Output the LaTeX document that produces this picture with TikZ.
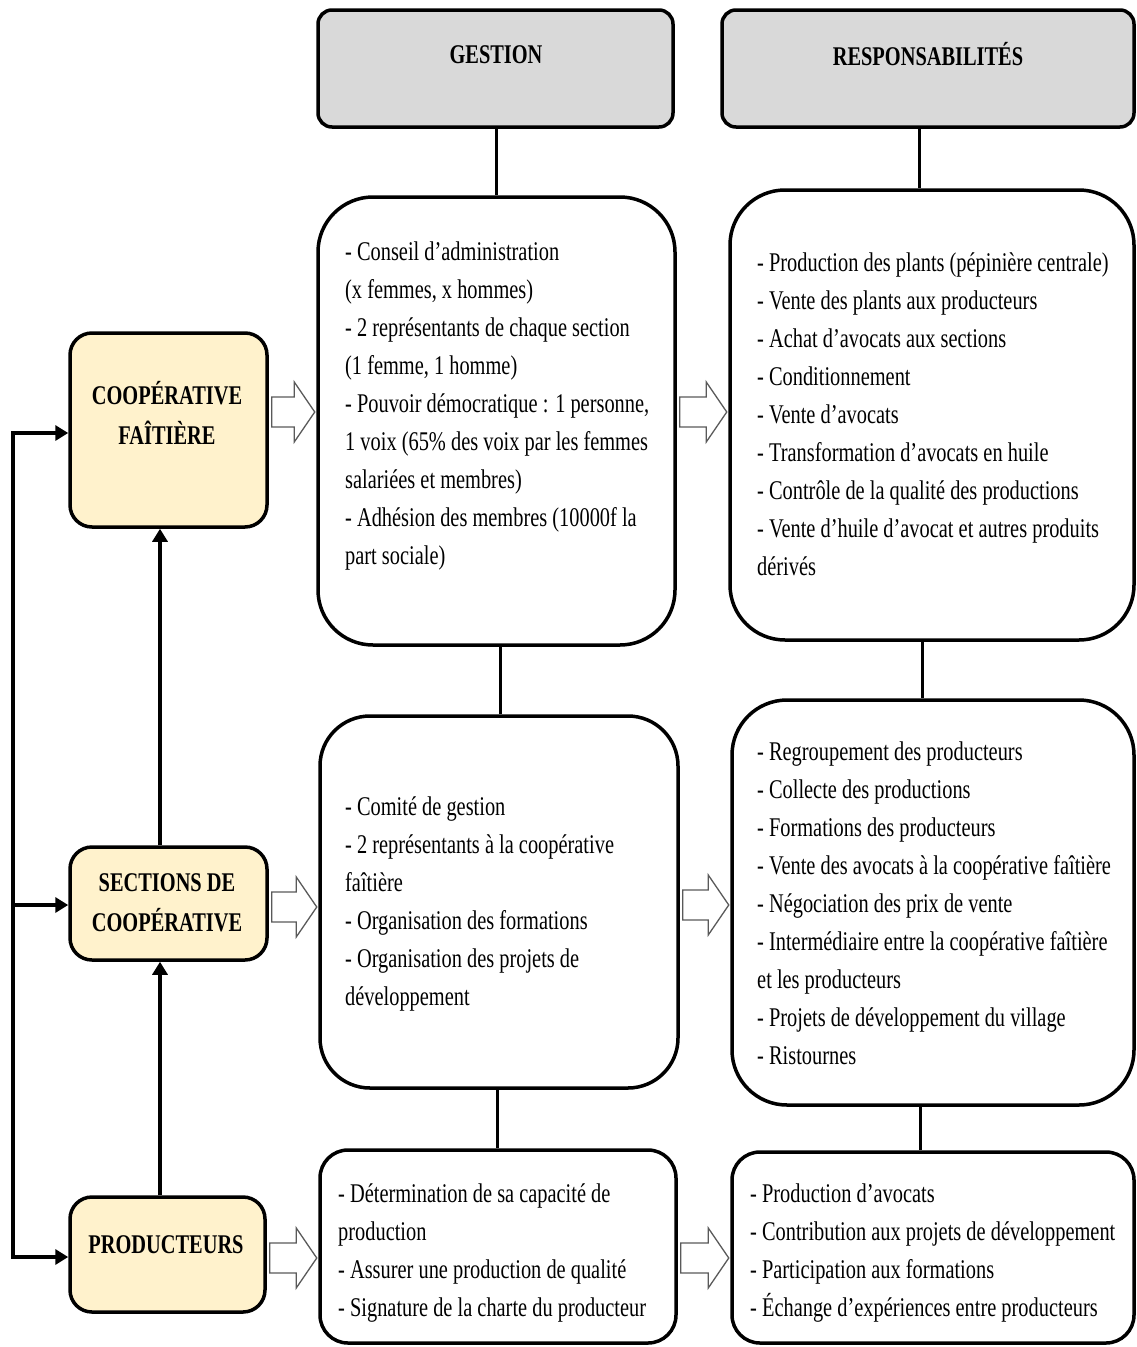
\documentclass[tikz,border=0pt]{standalone}
\usepackage{fontspec}
\setmainfont{Liberation Serif}[FakeStretch=0.755]
\usetikzlibrary{arrows.meta,calc}
\definecolor{beige}{HTML}{FFF2CC}
\definecolor{hgray}{HTML}{D9D9D9}
\definecolor{agray}{HTML}{5A5A5A}
\tikzset{
  box/.style={draw=black, line width=3.5pt, fill=white, inner sep=0pt},
  headbox/.style={box, fill=hgray, rounded corners=14pt},
  sidebox/.style={box, fill=beige, rounded corners=22pt},
  txt/.style={anchor=north west, inner sep=0pt, align=left, font=\fontsize{27}{38}\selectfont},
  ttl/.style={inner sep=0pt, align=center, font=\fontsize{27}{40}\selectfont\bfseries},
  conn/.style={line width=3pt},
  larr/.style={line width=3.5pt, -{Triangle[length=13pt,width=15pt]}},
  harrow/.style={draw=agray, line width=1.3pt, fill=white, line join=miter}
}
\newcommand\hollowarr[3]{%
  \draw[harrow] let \p1=(#1.east), \p2=(#2.west), \p3=(0,#3) in
   ({\x1+3pt},{\y3+15pt}) -- ({\x2-22pt},{\y3+15pt}) -- ({\x2-22pt},{\y3+30pt})
   -- ({\x2-1.5pt},\y3) -- ({\x2-22pt},{\y3-30pt}) -- ({\x2-22pt},{\y3-15pt})
   -- ({\x1+3pt},{\y3-15pt}) -- cycle;}
\begin{document}
\begin{tikzpicture}[x=1pt,y=-1pt]
\useasboundingbox[fill=white] (0,0) rectangle (1137,1347);
% header boxes
\node[headbox, minimum width=355pt, minimum height=117pt] (hg) at (495.5,68.5) {};
\node[headbox, minimum width=412pt, minimum height=117pt] (hr) at (928,68.5) {};
% gestion column
\node[box, rounded corners=55pt, minimum width=357pt, minimum height=448pt] (tg) at (496.5,421) {};
\node[box, rounded corners=50pt, minimum width=358pt, minimum height=372pt] (mg) at (499,902) {};
\node[box, rounded corners=28pt, minimum width=356pt, minimum height=193pt] (bg) at (498,1246.5) {};
% responsabilites column
\node[box, rounded corners=55pt, minimum width=404pt, minimum height=450pt] (tr) at (932,415) {};
\node[box, rounded corners=55pt, minimum width=402pt, minimum height=405pt] (mr) at (933,902.5) {};
\node[box, rounded corners=28pt, minimum width=402pt, minimum height=191pt] (br) at (933,1247.5) {};
% side boxes
\node[sidebox, minimum width=197pt, minimum height=194pt] (cf) at (168.5,430) {};
\node[sidebox, minimum width=197pt, minimum height=113pt] (sc) at (168.5,903.5) {};
\node[sidebox, minimum width=195pt, minimum height=115pt] (pr) at (167.5,1254.5) {};
% titles
\node[ttl] (thg) at (496,55) {GESTION};
\node[ttl] (thr) at (928,54) {RESPONSABILITÉS};
\node[ttl] (tcf) at (167,413) {COOPÉRATIVE\\FAÎTIÈRE};
\node[ttl] (tsc) at (167,903) {SECTIONS DE\\COOPÉRATIVE};
\node[ttl] (tpr) at (166,1245) {PRODUCTEURS};
% vertical connectors
\coordinate (gx1) at (496,0);
\coordinate (gx2) at (500,0);
\coordinate (gx3) at (497,0);
\coordinate (rx1) at (919,0);
\coordinate (rx2) at (922,0);
\coordinate (rx3) at (920,0);
\draw[conn] (hg.south -| gx1) -- (tg.north -| gx1);
\draw[conn] (tg.south -| gx2) -- (mg.north -| gx2);
\draw[conn] (mg.south -| gx3) -- (bg.north -| gx3);
\draw[conn] (hr.south -| rx1) -- (tr.north -| rx1);
\draw[conn] (tr.south -| rx2) -- (mr.north -| rx2);
\draw[conn] (mr.south -| rx3) -- (br.north -| rx3);
% hollow arrows
\hollowarr{cf}{tg}{412}
\hollowarr{tg}{tr}{412}
\hollowarr{sc}{mg}{907}
\hollowarr{mg}{mr}{905}
\hollowarr{pr}{bg}{1258}
\hollowarr{bg}{br}{1258}
% left feedback connectors
\coordinate (l1) at (13,433);
\coordinate (l2) at (13,905);
\coordinate (l3) at (13,1257);
\draw[line width=3.5pt] ([yshift=1.75pt]l1) -- ([yshift=-1.75pt]l3);
\draw[larr] (l1) -- (l1 -| cf.west);
\draw[larr] (l2) -- (l2 -| sc.west);
\draw[larr] (l3) -- (l3 -| pr.west);
\coordinate (vx) at (160,0);
\draw[larr] (pr.north -| vx) -- (sc.south -| vx);
\draw[larr] (sc.north -| vx) -- (cf.south -| vx);
% texts
\node[txt] (xtg) at (345,233.4) {\strut- Conseil d’administration\\
(x femmes, x hommes)\\
- 2 représentants de chaque section\\
(1 femme, 1 homme)\\
- Pouvoir démocratique : 1 personne,\\
1 voix (65\% des voix par les femmes\\
salariées et membres)\\
- Adhésion des membres (10000f la\\
part sociale)};
\node[txt] (xtr) at (757,244.4) {\strut- Production des plants (pépinière centrale)\\
- Vente des plants aux producteurs\\
- Achat d’avocats aux sections\\
- Conditionnement\\
- Vente d’avocats\\
- Transformation d’avocats en huile\\
- Contrôle de la qualité des productions\\
- Vente d’huile d’avocat et autres produits\\
dérivés};
\node[txt] (xmg) at (345,788.4) {\strut- Comité de gestion\\
- 2 représentants à la coopérative\\
faîtière\\
- Organisation des formations\\
- Organisation des projets de\\
développement};
\node[txt] (xmr) at (757,733.4) {\strut- Regroupement des producteurs\\
- Collecte des productions\\
- Formations des producteurs\\
- Vente des avocats à la coopérative faîtière\\
- Négociation des prix de vente\\
- Intermédiaire entre la coopérative faîtière\\
et les producteurs\\
- Projets de développement du village\\
- Ristournes};
\node[txt] (xbg) at (338,1175.4) {\strut- Détermination de sa capacité de\\
production\\
- Assurer une production de qualité\\
- Signature de la charte du producteur};
\node[txt] (xbr) at (750,1175.4) {\strut- Production d’avocats\\
- Contribution aux projets de développement\\
- Participation aux formations\\
- Échange d’expériences entre producteurs};
\end{tikzpicture}
\end{document}
